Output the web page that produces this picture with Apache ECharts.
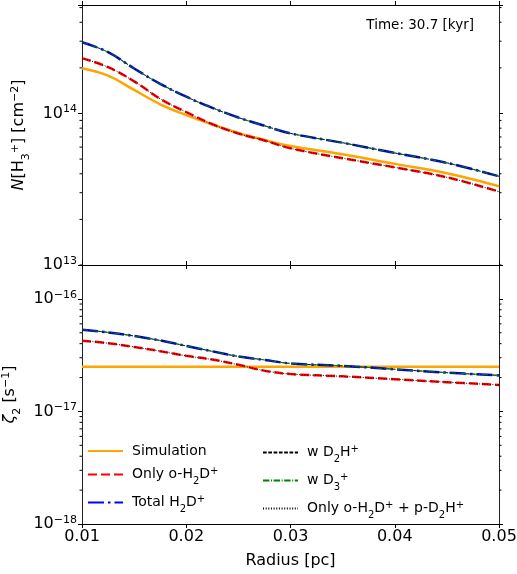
<!DOCTYPE html>
<html>
<head>
<meta charset="utf-8">
<script src="https://cdn.jsdelivr.net/npm/echarts@6/dist/echarts.min.js"></script>
<style>
  html, body { margin: 0; padding: 0; background: #fff; }
  #chart { width: 517px; height: 574px; }
</style>
</head>
<body>
<div id="chart"></div>
<script>
// radius grid [pc]
const radius = [0.01, 0.0125, 0.015, 0.0175, 0.02, 0.0225, 0.025, 0.0275, 0.03, 0.035, 0.04, 0.045, 0.05]

// column density N(H3+) [cm^-2]
const colSim = [1.99e14, 1.78e14, 1.43e14, 1.15e14, 9.75e13, 8.45e13, 7.43e13, 6.68e13, 6.1e13, 5.38e13, 4.65e13, 4.03e13, 3.31e13]
const colOrtho = [2.32e14, 2.02e14, 1.63e14, 1.25e14, 1.02e14, 8.5e13, 7.37e13, 6.64e13, 5.89e13, 5.07e13, 4.41e13, 3.79e13, 3.05e13]
const colTotal = [2.95e14, 2.54e14, 1.98e14, 1.57e14, 1.29e14, 1.09e14, 9.4e13, 8.3e13, 7.39e13, 6.41e13, 5.49e13, 4.72e13, 3.85e13]

// ionisation rate zeta_2 [s^-1]
const zetaSim = [2.5e-17, 2.5e-17, 2.5e-17, 2.5e-17, 2.5e-17, 2.5e-17, 2.5e-17, 2.5e-17, 2.5e-17, 2.5e-17, 2.5e-17, 2.5e-17, 2.5e-17]
const zetaOrtho = [4.25e-17, 4.04e-17, 3.74e-17, 3.43e-17, 3.12e-17, 2.89e-17, 2.6e-17, 2.3e-17, 2.15e-17, 2.05e-17, 1.93e-17, 1.82e-17, 1.72e-17]
const zetaTotal = [5.33e-17, 5.04e-17, 4.68e-17, 4.27e-17, 3.82e-17, 3.42e-17, 3.08e-17, 2.87e-17, 2.67e-17, 2.54e-17, 2.37e-17, 2.21e-17, 2.09e-17]

const minorTop = [2e13, 3e13, 4e13, 5e13, 6e13, 7e13, 8e13, 9e13, 2e14, 3e14, 4e14, 5e14]
const minorBot = [2e-18, 3e-18, 4e-18, 5e-18, 6e-18, 7e-18, 8e-18, 9e-18, 2e-17, 3e-17, 4e-17, 5e-17, 6e-17, 7e-17, 8e-17, 9e-17, 2e-16]

const names = ['Simulation', 'Only o-H₂D⁺', 'Total H₂D⁺', 'w D₂H⁺', 'w D₃⁺', 'Only o-H₂D⁺ + p-D₂H⁺']
// same labels written with rich-text sub/superscripts for the legend
const legendRich = {
  'Simulation': 'Simulation',
  'Only o-H₂D⁺': 'Only o-H{b|2}D{p|+}',
  'Total H₂D⁺': 'Total H{b|2}D{p|+}',
  'w D₂H⁺': 'w D{b|2}H{p|+}',
  'w D₃⁺': 'w D{b|3}{p|+}',
  'Only o-H₂D⁺ + p-D₂H⁺': 'Only o-H{b|2}D{p|+} + p-D{b|2}H{p|+}'
}

const FONT = 'DejaVu Sans'
const pair = (ys) => radius.map((r, i) => [r, ys[i]])

const styles = [
  { color: '#FFA500', width: 2.5, type: 'solid' },
  { color: '#FF0000', width: 2.5, type: [9, 4] },
  { color: '#0000FF', width: 2.5, type: [16, 4, 2.5, 4] },
  { color: '#000000', width: 1, type: [3.7, 1.6] },
  { color: '#008000', width: 1, type: [6.4, 1.6, 1, 1.6] },
  { color: '#000000', width: 1, type: [1, 1.65] }
]

const supStyle = { fontFamily: FONT, fontSize: 11, color: '#000', verticalAlign: 'bottom', padding: [0, 0, 8, 0] }
const subStyle = { fontFamily: FONT, fontSize: 11, color: '#000', verticalAlign: 'bottom', padding: [0, 0, -3, 0] }

const expLabel = (v) => {
  const l = Math.log10(v)
  const e = Math.round(l)
  if (Math.abs(l - e) > 1e-6) return ''
  return '10{s|' + (e < 0 ? '\u2212' + (-e) : e) + '}'
}

const logAxis = (grid, min, max, pos, showLabel, name, nameGap) => ({
  type: 'log',
  gridIndex: grid,
  position: pos,
  min: min,
  max: max,
  name: name,
  nameLocation: 'middle',
  nameGap: nameGap,
  nameTextStyle: {
    fontFamily: FONT, fontSize: 16, color: '#000',
    rich: {
      i: { fontFamily: FONT, fontSize: 16, fontStyle: 'italic', color: '#000' },
      p: supStyle,
      b: subStyle
    }
  },
  axisLine: { show: true, lineStyle: { color: '#222', width: 1 } },
  axisTick: { show: true, inside: false, length: 4, lineStyle: { color: '#000' } },
  splitLine: { show: false },
  axisLabel: {
    show: showLabel,
    margin: 5,
    fontFamily: FONT,
    fontSize: 16,
    color: '#000',
    formatter: expLabel,
    rich: { s: supStyle }
  }
})

const linAxis = (grid, pos, showLabel, name) => ({
  type: 'value',
  gridIndex: grid,
  position: pos,
  min: 0.01,
  max: 0.05,
  interval: 0.01,
  name: name,
  nameLocation: 'middle',
  nameGap: 29,
  nameTextStyle: { fontFamily: FONT, fontSize: 16, color: '#000' },
  axisLine: { show: true, onZero: false, lineStyle: { color: '#000', width: 1 } },
  axisTick: { show: true, inside: false, length: 4, lineStyle: { color: '#000' } },
  splitLine: { show: false },
  axisLabel: {
    show: showLabel,
    margin: 5,
    fontFamily: FONT,
    fontSize: 16,
    color: '#000',
    formatter: (v) => v.toFixed(2)
  }
})

// minor ticks of the log axes, placed through the axis scale
const minorSeries = (vals, xi, yi) => ({
  type: 'custom',
  xAxisIndex: xi,
  yAxisIndex: yi,
  silent: true,
  clip: false,
  z: 5,
  data: vals.map(v => [0.01, v]),
  renderItem: (params, api) => {
    const y = api.coord([api.value(0), api.value(1)])[1]
    const cs = params.coordSys
    const st = { stroke: '#000', lineWidth: 1 }
    return {
      type: 'group',
      children: [
        { type: 'line', shape: { x1: cs.x - 2.5, y1: y, x2: cs.x, y2: y }, style: st },
        { type: 'line', shape: { x1: cs.x + cs.width, y1: y, x2: cs.x + cs.width + 2.5, y2: y }, style: st }
      ]
    }
  }
})

const lineSeries = (idx, ys, xi, yi) => ({
  type: 'line',
  name: names[idx],
  xAxisIndex: xi,
  yAxisIndex: yi,
  data: pair(ys),
  symbol: 'none',
  smooth: 0.4,
  z: 2 + idx,
  lineStyle: { color: styles[idx].color, width: styles[idx].width, type: styles[idx].type },
  itemStyle: { color: styles[idx].color }
})

const chart = echarts.init(document.getElementById('chart'))

const legendBase = {
  orient: 'vertical',
  itemWidth: 35,
  itemHeight: 14,
  itemGap: 8,
  padding: 0,
  selectedMode: false,
  itemStyle: { opacity: 0 },
  formatter: (n) => legendRich[n],
  textStyle: {
    fontFamily: FONT, fontSize: 14, color: '#000', padding: [0, 0, 0, 4],
    rich: {
      p: { fontFamily: FONT, fontSize: 10, color: '#000', verticalAlign: 'bottom', padding: [0, 0, 7, 0] },
      b: { fontFamily: FONT, fontSize: 10, color: '#000', verticalAlign: 'bottom', padding: [0, 0, -3, 0] }
    }
  }
}

chart.setOption({
  animation: false,
  backgroundColor: '#fff',
  grid: [
    { left: 82, right: 18, top: 5, height: 260, outerBoundsMode: 'none' },
    { left: 82, right: 18, top: 265, height: 259, outerBoundsMode: 'none' }
  ],
  xAxis: [
    linAxis(0, 'bottom', false, ''),
    linAxis(0, 'top', false, ''),
    linAxis(1, 'bottom', true, 'Radius [pc]'),
    linAxis(1, 'top', false, '')
  ],
  yAxis: [
    logAxis(0, 1e13, 5.2e14, 'left', true, '{i|N}[H{b|3}{p|+}] [cm{p|−2}]', 46),
    logAxis(0, 1e13, 5.2e14, 'right', false, '', 0),
    logAxis(1, 1e-18, 2e-16, 'left', true, '{i|ζ}{b|2} [s{p|−1}]', 50),
    logAxis(1, 1e-18, 2e-16, 'right', false, '', 0)
  ],
  legend: [
    Object.assign({}, legendBase, { left: 87, top: 444, data: names.slice(0, 3) }),
    Object.assign({}, legendBase, { left: 262, top: 444, data: names.slice(3) })
  ],
  graphic: [
    {
      type: 'text',
      right: 43,
      top: 18,
      style: { text: 'Time: 30.7 [kyr]', fontFamily: FONT, fontSize: 13.5, fill: '#000' }
    }
  ],
  series: [
    lineSeries(0, colSim, 0, 0),
    lineSeries(1, colOrtho, 0, 0),
    lineSeries(2, colTotal, 0, 0),
    lineSeries(3, colTotal, 0, 0),
    lineSeries(4, colTotal, 0, 0),
    lineSeries(5, colOrtho, 0, 0),
    lineSeries(0, zetaSim, 2, 2),
    lineSeries(1, zetaOrtho, 2, 2),
    lineSeries(2, zetaTotal, 2, 2),
    lineSeries(3, zetaTotal, 2, 2),
    lineSeries(4, zetaTotal, 2, 2),
    lineSeries(5, zetaOrtho, 2, 2),
    minorSeries(minorTop, 0, 0),
    minorSeries(minorBot, 2, 2)
  ]
})
</script>
</body>
</html>
